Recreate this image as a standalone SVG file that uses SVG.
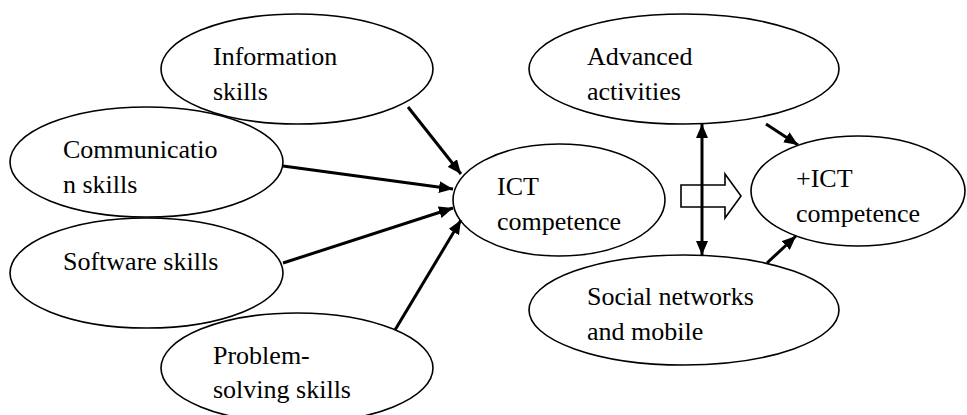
<svg xmlns="http://www.w3.org/2000/svg" width="967" height="415" viewBox="0 0 967 415">
<style>
.node ellipse { fill: #fff; stroke: #000; stroke-width: 1.6; }
.node text { font-family: "Liberation Serif", "Nimbus Roman", "Nimbus Roman No9 L", "FreeSerif", "Noto Serif", "DejaVu Serif", Times, serif; font-size: 26px; fill: #000; }
.conn line { stroke: #000; stroke-width: 3; }
</style>
<defs>
<marker id="ah" markerUnits="userSpaceOnUse" viewBox="0 0 14 12" markerWidth="14" markerHeight="12" refX="14" refY="6" orient="auto-start-reverse">
<path d="M0,0 L14,6 L0,12 Z" fill="#000"/>
</marker>
</defs>
<rect width="967" height="415" fill="#fff"/>
<g id="info" class="node">
<ellipse cx="297" cy="69" rx="136" ry="55"/>
<text x="213" y="65">Information</text>
<text x="213" y="100">skills</text>
</g>
<g id="comm" class="node">
<ellipse cx="146.5" cy="162" rx="136.5" ry="55"/>
<text x="63" y="158">Communicatio</text>
<text x="63" y="193">n skills</text>
</g>
<g id="soft" class="node">
<ellipse cx="146.5" cy="273" rx="136.5" ry="55"/>
<text x="63" y="270">Software skills</text>
</g>
<g id="prob" class="node">
<ellipse cx="297" cy="368" rx="136" ry="55"/>
<text x="213" y="364">Problem-</text>
<text x="213" y="398">solving skills</text>
</g>
<g id="ict" class="node">
<ellipse cx="559" cy="200" rx="106" ry="56"/>
<text x="497" y="195">ICT</text>
<text x="497" y="230">competence</text>
</g>
<g id="adv" class="node">
<ellipse cx="684" cy="69" rx="155" ry="55"/>
<text x="587" y="65">Advanced</text>
<text x="587" y="100">activities</text>
</g>
<g id="social" class="node">
<ellipse cx="684" cy="310" rx="155" ry="55"/>
<text x="587" y="305">Social networks</text>
<text x="587" y="340">and mobile</text>
</g>
<g id="plusict" class="node">
<ellipse cx="858" cy="191" rx="107" ry="55"/>
<text x="796" y="187">+ICT</text>
<text x="796" y="222">competence</text>
</g>
<g id="connectors" class="conn">
<line x1="408" y1="107" x2="461" y2="174" marker-end="url(#ah)"/>
<line x1="283" y1="166" x2="453" y2="189" marker-end="url(#ah)"/>
<line x1="283" y1="263" x2="453" y2="208" marker-end="url(#ah)"/>
<line x1="395" y1="330" x2="461" y2="220" marker-end="url(#ah)"/>
<line x1="702" y1="124" x2="702" y2="255" marker-start="url(#ah)" marker-end="url(#ah)"/>
<line x1="766" y1="124" x2="798" y2="145" marker-end="url(#ah)"/>
<line x1="767" y1="263" x2="796" y2="236" marker-end="url(#ah)"/>
<path d="M681,185 L725,185 L725,174 L741,196 L725,218 L725,207 L681,207 Z" fill="none" stroke="#000" stroke-width="1.6"/>
</g>
</svg>
